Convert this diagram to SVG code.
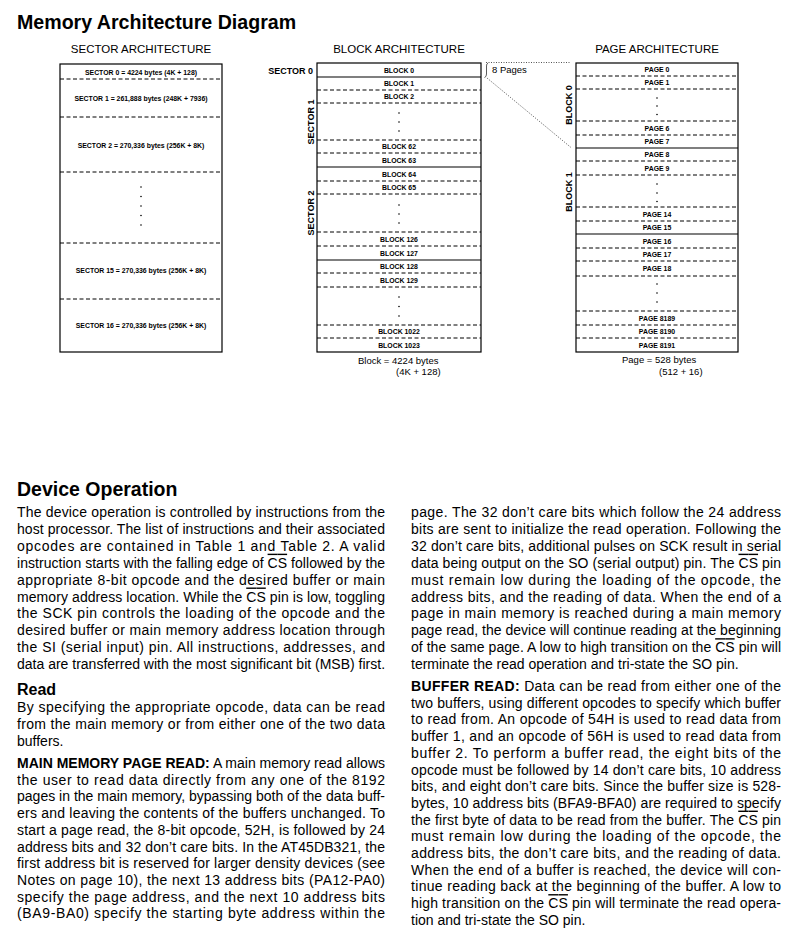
<svg xmlns="http://www.w3.org/2000/svg" width="805" height="935" viewBox="0 0 805 935">
<style>
text{font-family:"Liberation Sans",Arial,sans-serif;fill:#000}
.title{font-size:19.6px;font-weight:bold}
.h1{font-size:19.5px;font-weight:bold}
.h2{font-size:16px;font-weight:bold}
.hdr{font-size:11.5px;text-anchor:middle}
.lbl{font-size:6.9px;font-weight:bold;text-anchor:middle}
.side{font-size:9px;font-weight:bold;text-anchor:middle}
.cap{font-size:9.5px}
.b{font-size:14px}
.bb{font-weight:bold}
.ov{text-decoration:overline}
.box{fill:#fff;stroke:#000;stroke-width:1.2}
.sl{stroke:#000;stroke-width:1.2}
.dl{stroke:#000;stroke-width:1;stroke-dasharray:4,2.5}
.dot{stroke:#555;stroke-width:1;stroke-dasharray:1,1.5;fill:none}
</style>

<text class="title" x="17" y="29">Memory Architecture Diagram</text>

<!-- SECTOR ARCHITECTURE -->
<g id="sector-arch">
<text class="hdr" x="141" y="53">SECTOR ARCHITECTURE</text>
<rect class="box" x="60" y="64" width="162" height="288"/>
<line class="dl" x1="60" y1="79" x2="222" y2="79"/>
<line class="dl" x1="60" y1="117" x2="222" y2="117"/>
<line class="dl" x1="60" y1="172" x2="222" y2="172"/>
<line class="dl" x1="60" y1="243" x2="222" y2="243"/>
<line class="dl" x1="60" y1="299" x2="222" y2="299"/>
<text class="lbl" x="141" y="74.5">SECTOR 0 = 4224 bytes (4K + 128)</text>
<text class="lbl" x="141" y="100.5">SECTOR 1 = 261,888 bytes (248K + 7936)</text>
<text class="lbl" x="141" y="148">SECTOR 2 = 270,336 bytes (256K + 8K)</text>
<text class="lbl" x="141" y="272.5">SECTOR 15 = 270,336 bytes (256K + 8K)</text>
<text class="lbl" x="141" y="328">SECTOR 16 = 270,336 bytes (256K + 8K)</text>
<g fill="#000"><circle cx="141" cy="187" r="0.8"/><circle cx="141" cy="196.5" r="0.8"/><circle cx="141" cy="206" r="0.8"/><circle cx="141" cy="215.5" r="0.8"/><circle cx="141" cy="225" r="0.8"/></g>
</g>

<!-- BLOCK ARCHITECTURE -->
<g id="block-arch">
<text class="hdr" x="399" y="53">BLOCK ARCHITECTURE</text>
<rect class="box" x="317" y="63" width="164" height="289"/>
<line class="sl" x1="317" y1="77" x2="481" y2="77"/>
<line class="dl" x1="317" y1="90" x2="481" y2="90"/>
<line class="dl" x1="317" y1="103" x2="481" y2="103"/>
<line class="dl" x1="317" y1="140" x2="481" y2="140"/>
<line class="dl" x1="317" y1="153" x2="481" y2="153"/>
<line class="sl" x1="317" y1="167" x2="481" y2="167"/>
<line class="dl" x1="317" y1="181" x2="481" y2="181"/>
<line class="dl" x1="317" y1="194" x2="481" y2="194"/>
<line class="dl" x1="317" y1="232" x2="481" y2="232"/>
<line class="dl" x1="317" y1="246" x2="481" y2="246"/>
<line class="sl" x1="317" y1="260" x2="481" y2="260"/>
<line class="dl" x1="317" y1="273" x2="481" y2="273"/>
<line class="dl" x1="317" y1="287" x2="481" y2="287"/>
<line class="dl" x1="317" y1="325" x2="481" y2="325"/>
<line class="dl" x1="317" y1="338" x2="481" y2="338"/>
<text class="lbl" x="399" y="72.5">BLOCK 0</text>
<text class="lbl" x="399" y="86">BLOCK 1</text>
<text class="lbl" x="399" y="99">BLOCK 2</text>
<text class="lbl" x="399" y="149">BLOCK 62</text>
<text class="lbl" x="399" y="162.5">BLOCK 63</text>
<text class="lbl" x="399" y="176.5">BLOCK 64</text>
<text class="lbl" x="399" y="190">BLOCK 65</text>
<text class="lbl" x="399" y="241.5">BLOCK 126</text>
<text class="lbl" x="399" y="255.5">BLOCK 127</text>
<text class="lbl" x="399" y="269">BLOCK 128</text>
<text class="lbl" x="399" y="282.5">BLOCK 129</text>
<text class="lbl" x="399" y="334">BLOCK 1022</text>
<text class="lbl" x="399" y="347.5">BLOCK 1023</text>
<g fill="#000"><circle cx="399" cy="113" r="0.8"/><circle cx="399" cy="122" r="0.8"/><circle cx="399" cy="131" r="0.8"/><circle cx="399" cy="205" r="0.8"/><circle cx="399" cy="214" r="0.8"/><circle cx="399" cy="223" r="0.8"/><circle cx="399" cy="297" r="0.8"/><circle cx="399" cy="306.5" r="0.8"/><circle cx="399" cy="316" r="0.8"/></g>
<text class="side" x="313" y="73.5" style="text-anchor:end">SECTOR 0</text>
<text class="side" transform="translate(314,122) rotate(-90)">SECTOR 1</text>
<text class="side" transform="translate(314,213) rotate(-90)">SECTOR 2</text>
<text class="cap" x="358" y="363.5">Block = 4224 bytes</text>
<text class="cap" x="396" y="375">(4K + 128)</text>
</g>

<!-- zoom lines -->
<g id="connectors">
<path class="dot" d="M486,62.5 L570,62.5"/>
<path class="dot" d="M487,78 L571,147.5"/>
<path d="M488,63 Q486.5,63.5 486.5,66 L486.5,74 Q486.5,77 484.5,77.5" fill="none" stroke="#333" stroke-width="0.8"/>
<text class="cap" x="492" y="72.5">8 Pages</text>
</g>

<!-- PAGE ARCHITECTURE -->
<g id="page-arch">
<text class="hdr" x="657" y="53">PAGE ARCHITECTURE</text>
<rect class="box" x="576" y="63" width="162" height="289"/>
<line class="dl" x1="576" y1="76" x2="738" y2="76"/>
<line class="dl" x1="576" y1="89" x2="738" y2="89"/>
<line class="dl" x1="576" y1="121" x2="738" y2="121"/>
<line class="dl" x1="576" y1="135" x2="738" y2="135"/>
<line class="sl" x1="576" y1="148" x2="738" y2="148"/>
<line class="dl" x1="576" y1="161" x2="738" y2="161"/>
<line class="dl" x1="576" y1="175" x2="738" y2="175"/>
<line class="dl" x1="576" y1="207" x2="738" y2="207"/>
<line class="dl" x1="576" y1="221" x2="738" y2="221"/>
<line class="sl" x1="576" y1="234" x2="738" y2="234"/>
<line class="dl" x1="576" y1="248" x2="738" y2="248"/>
<line class="dl" x1="576" y1="261" x2="738" y2="261"/>
<line class="dl" x1="576" y1="276" x2="738" y2="276"/>
<line class="dl" x1="576" y1="311" x2="738" y2="311"/>
<line class="dl" x1="576" y1="325" x2="738" y2="325"/>
<line class="dl" x1="576" y1="338" x2="738" y2="338"/>
<text class="lbl" x="657" y="72">PAGE 0</text>
<text class="lbl" x="657" y="85">PAGE 1</text>
<text class="lbl" x="657" y="130.5">PAGE 6</text>
<text class="lbl" x="657" y="144">PAGE 7</text>
<text class="lbl" x="657" y="157">PAGE 8</text>
<text class="lbl" x="657" y="170.5">PAGE 9</text>
<text class="lbl" x="657" y="216.5">PAGE 14</text>
<text class="lbl" x="657" y="230">PAGE 15</text>
<text class="lbl" x="657" y="243.5">PAGE 16</text>
<text class="lbl" x="657" y="257">PAGE 17</text>
<text class="lbl" x="657" y="270.5">PAGE 18</text>
<text class="lbl" x="657" y="320.5">PAGE 8189</text>
<text class="lbl" x="657" y="334">PAGE 8190</text>
<text class="lbl" x="657" y="347.5">PAGE 8191</text>
<g fill="#000"><circle cx="657" cy="98" r="0.8"/><circle cx="657" cy="106" r="0.8"/><circle cx="657" cy="114.5" r="0.8"/><circle cx="657" cy="184" r="0.8"/><circle cx="657" cy="193" r="0.8"/><circle cx="657" cy="201.5" r="0.8"/><circle cx="657" cy="284" r="0.8"/><circle cx="657" cy="293" r="0.8"/><circle cx="657" cy="302" r="0.8"/></g>
<text class="side" transform="translate(572,105) rotate(-90)">BLOCK 0</text>
<text class="side" transform="translate(572,192) rotate(-90)">BLOCK 1</text>
<text class="cap" x="622" y="363">Page = 528 bytes</text>
<text class="cap" x="659" y="375">(512 + 16)</text>
</g>

<!-- TEXT: left column -->
<g id="text-left">
<text class="h1" x="17" y="496">Device Operation</text>
<text class="b" x="17" y="517" textLength="368" lengthAdjust="spacing">The device operation is controlled by instructions from the</text>
<text class="b" x="17" y="533.9" textLength="368" lengthAdjust="spacing">host processor. The list of instructions and their associated</text>
<text class="b" x="17" y="550.8" textLength="368" lengthAdjust="spacing">opcodes are contained in Table 1 and Table 2. A valid</text>
<text class="b" x="17" y="567.7" textLength="368" lengthAdjust="spacing">instruction starts with the falling edge of <tspan class="ov">CS</tspan> followed by the</text>
<text class="b" x="17" y="584.6" textLength="368" lengthAdjust="spacing">appropriate 8-bit opcode and the desired buffer or main</text>
<text class="b" x="17" y="601.5" textLength="368" lengthAdjust="spacing">memory address location. While the <tspan class="ov">CS</tspan> pin is low, toggling</text>
<text class="b" x="17" y="618.4" textLength="368" lengthAdjust="spacing">the SCK pin controls the loading of the opcode and the</text>
<text class="b" x="17" y="635.3" textLength="368" lengthAdjust="spacing">desired buffer or main memory address location through</text>
<text class="b" x="17" y="652.2" textLength="368" lengthAdjust="spacing">the SI (serial input) pin. All instructions, addresses, and</text>
<text class="b" x="17" y="669">data are transferred with the most significant bit (MSB) first.</text>
<text class="h2" x="17" y="695">Read</text>
<text class="b" x="17" y="712" textLength="368" lengthAdjust="spacing">By specifying the appropriate opcode, data can be read</text>
<text class="b" x="17" y="729" textLength="368" lengthAdjust="spacing">from the main memory or from either one of the two data</text>
<text class="b" x="17" y="746">buffers.</text>
<text class="b" x="17" y="768" textLength="368" lengthAdjust="spacing"><tspan class="bb">MAIN MEMORY PAGE READ:</tspan> A main memory read allows</text>
<text class="b" x="17" y="784.7" textLength="368" lengthAdjust="spacing">the user to read data directly from any one of the 8192</text>
<text class="b" x="17" y="801.4" textLength="368" lengthAdjust="spacing">pages in the main memory, bypassing both of the data buff-</text>
<text class="b" x="17" y="818.1" textLength="368" lengthAdjust="spacing">ers and leaving the contents of the buffers unchanged. To</text>
<text class="b" x="17" y="834.8" textLength="368" lengthAdjust="spacing">start a page read, the 8-bit opcode, 52H, is followed by 24</text>
<text class="b" x="17" y="851.5" textLength="368" lengthAdjust="spacing">address bits and 32 don’t care bits. In the AT45DB321, the</text>
<text class="b" x="17" y="868.2" textLength="368" lengthAdjust="spacing">first address bit is reserved for larger density devices (see</text>
<text class="b" x="17" y="884.9" textLength="368" lengthAdjust="spacing">Notes on page 10), the next 13 address bits (PA12-PA0)</text>
<text class="b" x="17" y="901.6" textLength="368" lengthAdjust="spacing">specify the page address, and the next 10 address bits</text>
<text class="b" x="17" y="918.3" textLength="368" lengthAdjust="spacing">(BA9-BA0) specify the starting byte address within the</text>
</g>

<!-- TEXT: right column -->
<g id="text-right">
<text class="b" x="411" y="517" textLength="370" lengthAdjust="spacing">page. The 32 don’t care bits which follow the 24 address</text>
<text class="b" x="411" y="533.9" textLength="370" lengthAdjust="spacing">bits are sent to initialize the read operation. Following the</text>
<text class="b" x="411" y="550.8" textLength="370" lengthAdjust="spacing">32 don’t care bits, additional pulses on SCK result in serial</text>
<text class="b" x="411" y="567.7" textLength="370" lengthAdjust="spacing">data being output on the SO (serial output) pin. The <tspan class="ov">CS</tspan> pin</text>
<text class="b" x="411" y="584.6" textLength="370" lengthAdjust="spacing">must remain low during the loading of the opcode, the</text>
<text class="b" x="411" y="601.5" textLength="370" lengthAdjust="spacing">address bits, and the reading of data. When the end of a</text>
<text class="b" x="411" y="618.4" textLength="370" lengthAdjust="spacing">page in main memory is reached during a main memory</text>
<text class="b" x="411" y="635.3" textLength="370" lengthAdjust="spacing">page read, the device will continue reading at the beginning</text>
<text class="b" x="411" y="652.2" textLength="370" lengthAdjust="spacing">of the same page. A low to high transition on the <tspan class="ov">CS</tspan> pin will</text>
<text class="b" x="411" y="669">terminate the read operation and tri-state the SO pin.</text>
<text class="b" x="411" y="691" textLength="370" lengthAdjust="spacing"><tspan class="bb">BUFFER READ:</tspan> Data can be read from either one of the</text>
<text class="b" x="411" y="707.7" textLength="370" lengthAdjust="spacing">two buffers, using different opcodes to specify which buffer</text>
<text class="b" x="411" y="724.4" textLength="370" lengthAdjust="spacing">to read from. An opcode of 54H is used to read data from</text>
<text class="b" x="411" y="741.1" textLength="370" lengthAdjust="spacing">buffer 1, and an opcode of 56H is used to read data from</text>
<text class="b" x="411" y="757.8" textLength="370" lengthAdjust="spacing">buffer 2. To perform a buffer read, the eight bits of the</text>
<text class="b" x="411" y="774.5" textLength="370" lengthAdjust="spacing">opcode must be followed by 14 don’t care bits, 10 address</text>
<text class="b" x="411" y="791.2" textLength="370" lengthAdjust="spacing">bits, and eight don’t care bits. Since the buffer size is 528-</text>
<text class="b" x="411" y="807.9" textLength="370" lengthAdjust="spacing">bytes, 10 address bits (BFA9-BFA0) are required to specify</text>
<text class="b" x="411" y="824.6" textLength="370" lengthAdjust="spacing">the first byte of data to be read from the buffer. The <tspan class="ov">CS</tspan> pin</text>
<text class="b" x="411" y="841.3" textLength="370" lengthAdjust="spacing">must remain low during the loading of the opcode, the</text>
<text class="b" x="411" y="858" textLength="370" lengthAdjust="spacing">address bits, the don’t care bits, and the reading of data.</text>
<text class="b" x="411" y="874.7" textLength="370" lengthAdjust="spacing">When the end of a buffer is reached, the device will con-</text>
<text class="b" x="411" y="891.4" textLength="370" lengthAdjust="spacing">tinue reading back at the beginning of the buffer. A low to</text>
<text class="b" x="411" y="908.1" textLength="370" lengthAdjust="spacing">high transition on the <tspan class="ov">CS</tspan> pin will terminate the read opera-</text>
<text class="b" x="411" y="924.8">tion and tri-state the SO pin.</text>
</g>
</svg>
